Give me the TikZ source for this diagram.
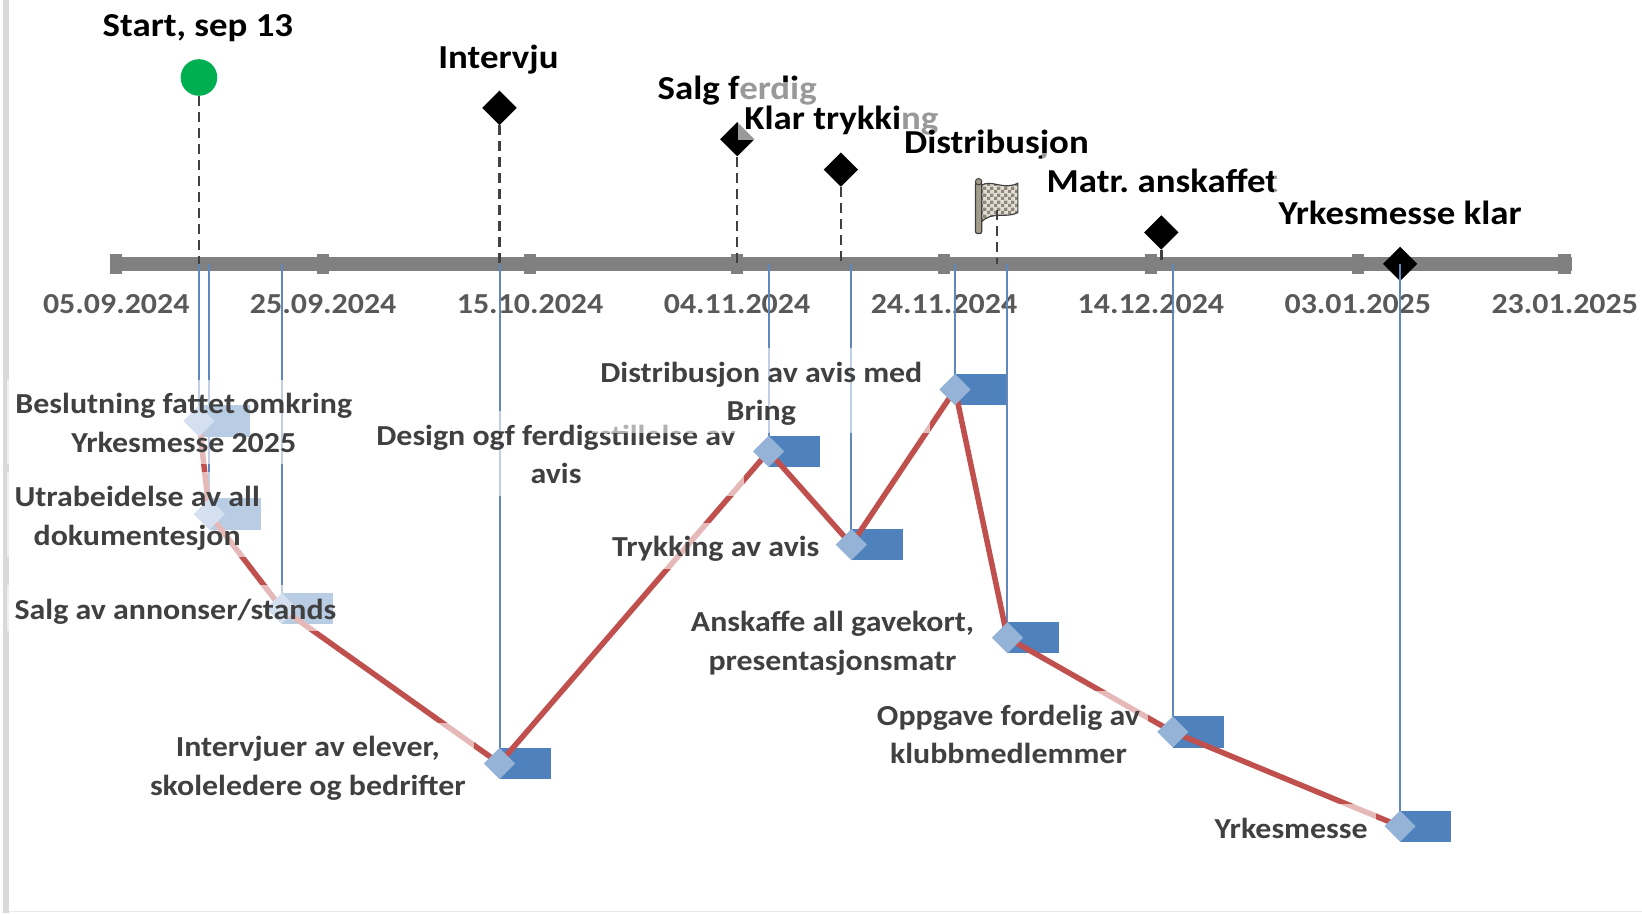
\documentclass[tikz,border=0pt]{standalone}
\usepackage{fontspec}
\setmainfont{Carlito}[FakeStretch=1.1]
\usepackage{tikz}
\usetikzlibrary{shapes.geometric,patterns}

\definecolor{axisgray}{HTML}{808080}
\definecolor{dategray}{HTML}{595959}
\definecolor{labelgray}{HTML}{404040}
\definecolor{taskblue}{HTML}{4F81BD}
\definecolor{lineblue}{HTML}{6088BE}
\definecolor{diamondblue}{HTML}{95B3D7}
\definecolor{pathred}{HTML}{C0504D}
\definecolor{startgreen}{HTML}{00B050}
\definecolor{framegray}{HTML}{D9D9D9}
\definecolor{flagpole}{HTML}{A39C8C}
\definecolor{flagcloth}{HTML}{E3DED5}
\definecolor{flagcheck}{HTML}{8E8878}

\pgfdeclarepatternformonly{flagchecks}{\pgfpointorigin}{\pgfqpoint{7pt}{7pt}}{\pgfqpoint{7pt}{7pt}}{%
  \pgfpathrectangle{\pgfpointorigin}{\pgfqpoint{3.5pt}{3.5pt}}%
  \pgfpathrectangle{\pgfqpoint{3.5pt}{3.5pt}}{\pgfqpoint{3.5pt}{3.5pt}}%
  \pgfusepath{fill}}

\newcommand\topstrut{\rule{0pt}{28pt}}
\newcommand\botstrut{\rule[-6pt]{0pt}{6pt}}
\frenchspacing

\begin{document}
\begin{tikzpicture}[x=1.0472pt,y=-1.0472pt]
\tikzstyle{datelabel}=[font=\fontsize{29}{35}\selectfont\bfseries,text=dategray,anchor=base,inner sep=0pt]
\tikzstyle{axistick}=[fill=axisgray,minimum width=12.5pt,minimum height=20pt,inner sep=0pt]
\tikzstyle{milestone}=[diamond,fill=black,minimum size=34.5pt,inner sep=0pt]
\tikzstyle{mslabel}=[font=\fontsize{33.5}{40}\selectfont\bfseries,fill=white,fill opacity=0.6,text opacity=1,anchor=base,text height=48pt,text depth=10pt,inner xsep=5pt,inner ysep=0pt]
\tikzstyle{msline}=[labelgray,line width=2.5pt,dash pattern=on 10pt off 6pt]
\tikzstyle{taskline}=[lineblue,line width=2pt]
\tikzstyle{taskmark}=[diamond,fill=diamondblue,minimum size=31.4pt,inner sep=0pt]
\tikzstyle{taskbar}=[fill=taskblue,minimum width=51pt,minimum height=31.4pt,inner sep=0pt,anchor=west]
\tikzstyle{tasklabel}=[font=\fontsize{29}{38.7}\selectfont\bfseries,text=labelgray,align=center,fill=white,fill opacity=0.6,text opacity=1,inner xsep=8pt,inner ysep=6pt]
\useasboundingbox (0,0) rectangle (1568,872);

% frame of the chart area
\fill[framegray] (3,0) rectangle (9,872);
\draw[framegray!60,line width=1.5pt] (9,870.5) -- (1568,870.5);

% date axis
\node[datelabel] (dt1) at (111,299) {05.09.2024};
\node[datelabel] (dt2) at (308.6,299) {25.09.2024};
\node[datelabel] (dt3) at (506.2,299) {15.10.2024};
\node[datelabel] (dt4) at (703.8,299) {04.11.2024};
\node[datelabel] (dt5) at (901.4,299) {24.11.2024};
\node[datelabel] (dt6) at (1099,299) {14.12.2024};
\node[datelabel] (dt7) at (1296.6,299) {03.01.2025};
\node[datelabel] (dt8) at (1494.2,299) {23.01.2025};
\coordinate (axl) at (105,252);
\coordinate (axr) at (1501,252);
\draw[axisgray,line width=13.5pt] (axl) -- (axr);
\node[axistick] (t1) at (111,252) {};
\node[axistick] (t2) at (308.6,252) {};
\node[axistick] (t3) at (506.2,252) {};
\node[axistick] (t4) at (703.8,252) {};
\node[axistick] (t5) at (901.4,252) {};
\node[axistick] (t6) at (1099,252) {};
\node[axistick] (t7) at (1296.6,252) {};
\node[axistick] (t8) at (1494.2,252) {};

% milestones
\node[circle,fill=startgreen,minimum size=36.6pt,inner sep=0pt] (ms1) at (190,74) {};
\node[milestone] (ms2) at (477,103) {};
\node[milestone] (ms3) at (704,133) {};
\node[milestone] (ms4) at (803,162) {};
\node[milestone] (ms6) at (1109,222) {};
\node[milestone] (ms7) at (1337,252) {};
\path[fill=flagcloth,postaction={pattern=flagchecks,pattern color=flagcheck},postaction={draw=labelgray,line width=1.2pt}]
  (937,177) .. controls (947,171) and (958,182) .. (972,175) -- (972,203)
  .. controls (960,209) and (948,201) .. (937,212) -- cycle;
\draw[labelgray,line width=1.2pt,fill=flagpole,rounded corners=2pt] (931.5,174) rectangle (937.5,223);
\draw[labelgray,line width=1pt,fill=flagpole] (934.5,173.5) circle (3.2pt);
\coordinate (ms5) at (952,201);
\draw[msline] (ms1.south) -- (ms1 |- axl);
\draw[msline] (ms2.south) -- (ms2 |- axl);
\draw[msline] (ms3.south) -- (ms3 |- axl);
\draw[msline] (ms4.south) -- (ms4 |- axl);
\draw[msline] (ms5) -- (ms5 |- axl);
\draw[msline] (ms6.south) -- (ms6 |- axl);

% tasks
\coordinate (p1) at (190,402);
\coordinate (p2) at (200,491);
\coordinate (p3) at (269,581);
\coordinate (p4) at (477,729);
\coordinate (p5) at (734,431);
\coordinate (p6) at (813,520);
\coordinate (p7) at (912,372);
\coordinate (p8) at (962,609);
\coordinate (p9) at (1120,699);
\coordinate (p10) at (1337,789);
\draw[taskline] (p1 |- axl) -- (p1);
\draw[taskline] (p2 |- axl) -- (p2);
\draw[taskline] (p3 |- axl) -- (p3);
\draw[taskline] (p4 |- axl) -- (p4);
\draw[taskline] (p5 |- axl) -- (p5);
\draw[taskline] (p6 |- axl) -- (p6);
\draw[taskline] (p7 |- axl) -- (p7);
\draw[taskline] (p8 |- axl) -- (p8);
\draw[taskline] (p9 |- axl) -- (p9);
\draw[taskline] (p10 |- axl) -- (p10);
\node[taskbar] (b1) at (p1) {};
\node[taskbar] (b2) at (p2) {};
\node[taskbar] (b3) at (p3) {};
\node[taskbar] (b4) at (p4) {};
\node[taskbar] (b5) at (p5) {};
\node[taskbar] (b6) at (p6) {};
\node[taskbar] (b7) at (p7) {};
\node[taskbar] (b8) at (p8) {};
\node[taskbar] (b9) at (p9) {};
\node[taskbar] (b10) at (p10) {};
\draw[pathred,line width=5.5pt,line join=round] (p1) -- (p2) -- (p3) -- (p4) -- (p5) -- (p6) -- (p7) -- (p8) -- (p9) -- (p10);
\node[taskmark] (d1) at (p1) {};
\node[taskmark] (d2) at (p2) {};
\node[taskmark] (d3) at (p3) {};
\node[taskmark] (d4) at (p4) {};
\node[taskmark] (d5) at (p5) {};
\node[taskmark] (d6) at (p6) {};
\node[taskmark] (d7) at (p7) {};
\node[taskmark] (d8) at (p8) {};
\node[taskmark] (d9) at (p9) {};
\node[taskmark] (d10) at (p10) {};

% task labels
\node[tasklabel] (l1) at (175.5,403) {\topstrut Beslutning fattet omkring\\Yrkesmesse 2025\botstrut};
\node[tasklabel] (l2) at (131,491.5) {\topstrut Utrabeidelse av all\\dokumentesjon\botstrut};
\node[tasklabel] (l3) at (167.5,581) {\topstrut Salg av annonser/stands\botstrut};
\node[tasklabel] (l4) at (294,730.5) {\topstrut Intervjuer av elever,\\skoleledere og bedrifter\botstrut};
\node[tasklabel] (l5) at (531,433) {\topstrut Design ogf ferdigstillelse av\\avis\botstrut};
\node[tasklabel] (l6) at (683.5,521) {\topstrut Trykking av avis\botstrut};
\node[tasklabel] (l7) at (727,373) {\topstrut Distribusjon av avis med\\Bring\botstrut};
\node[tasklabel] (l8) at (795,611) {\topstrut Anskaffe all gavekort,\\presentasjonsmatr\botstrut};
\node[tasklabel] (l9) at (963,700.5) {\topstrut Oppgave fordelig av\\klubbmedlemmer\botstrut};
\node[tasklabel] (l10) at (1233,790) {\topstrut Yrkesmesse\botstrut};

% milestone labels
\node[mslabel] (m1) at (189,35) {Start, sep 13};
\node[mslabel] (m2) at (476,65) {Intervju};
\node[mslabel] (m3) at (704,95) {Salg ferdig};
\node[mslabel,inner xsep=6.5pt] (m4) at (803.5,124) {Klar trykking};
\node[mslabel] (m5) at (951.5,146.5) {Distribusjon};
\node[mslabel,text height=40pt] (m6) at (1110,184) {Matr. anskaffet};
\node[mslabel] (m7) at (1337,214) {Yrkesmesse klar};
\end{tikzpicture}
\end{document}
